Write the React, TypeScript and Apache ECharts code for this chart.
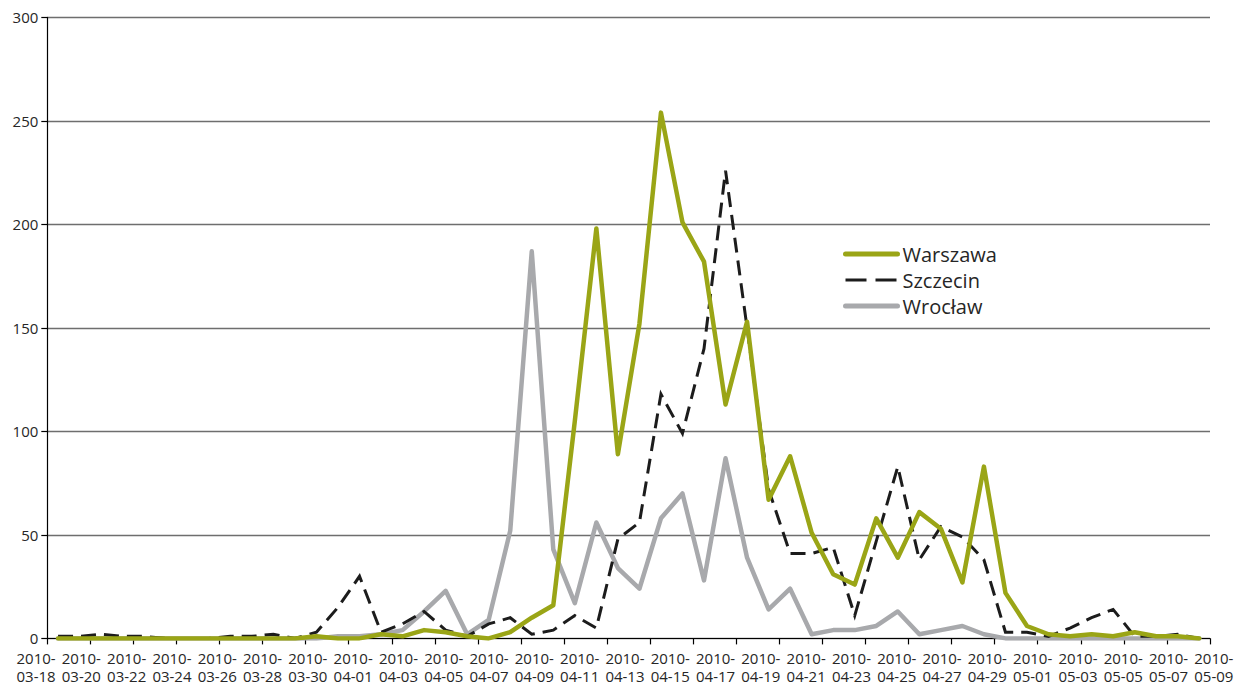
import React, { useEffect, useRef } from "react";
import * as echarts from "echarts";

const categories = [
  "2010-03-18", "2010-03-19", "2010-03-20", "2010-03-21", "2010-03-22", "2010-03-23", "2010-03-24",
  "2010-03-25", "2010-03-26", "2010-03-27", "2010-03-28", "2010-03-29", "2010-03-30", "2010-03-31",
  "2010-04-01", "2010-04-02", "2010-04-03", "2010-04-04", "2010-04-05", "2010-04-06", "2010-04-07",
  "2010-04-08", "2010-04-09", "2010-04-10", "2010-04-11", "2010-04-12", "2010-04-13", "2010-04-14",
  "2010-04-15", "2010-04-16", "2010-04-17", "2010-04-18", "2010-04-19", "2010-04-20", "2010-04-21",
  "2010-04-22", "2010-04-23", "2010-04-24", "2010-04-25", "2010-04-26", "2010-04-27", "2010-04-28",
  "2010-04-29", "2010-04-30", "2010-05-01", "2010-05-02", "2010-05-03", "2010-05-04", "2010-05-05",
  "2010-05-06", "2010-05-07", "2010-05-08", "2010-05-09", "2010-05-10",
];

const tickLabels = [
  "2010-03-18", "2010-03-20", "2010-03-22", "2010-03-24", "2010-03-26", "2010-03-28", "2010-03-30",
  "2010-04-01", "2010-04-03", "2010-04-05", "2010-04-07", "2010-04-09", "2010-04-11", "2010-04-13",
  "2010-04-15", "2010-04-17", "2010-04-19", "2010-04-21", "2010-04-23", "2010-04-25", "2010-04-27",
  "2010-04-29", "2010-05-01", "2010-05-03", "2010-05-05", "2010-05-07", "2010-05-09",
];

const seriesNames = ["Warszawa", "Szczecin", "Wrocław"];

const warszawa = [
  0, 0, 0, 0, 0, 0, 0, 0, 0, 0, 0, 0, 1, 0, 0, 2, 1, 4, 3, 1, 0, 3, 10, 16, 105, 198, 89, 152,
  254, 201, 182, 113, 153, 67, 88, 51, 31, 26, 58, 39, 61, 53, 27, 83, 22, 6, 2, 1, 2, 1, 3, 1, 1, 0,
];

const szczecin = [
  1, 1, 2, 1, 1, 0, 0, 0, 1, 1, 2, 0, 3, 15, 30, 3, 7, 13, 4, 1, 7, 10, 2, 4, 11, 5, 48, 56,
  118, 99, 140, 226, 150, 72, 41, 41, 44, 11, 47, 83, 38, 54, 49, 38, 3, 3, 1, 5, 10, 14, 1, 1, 2, 0,
];

const wroclaw = [
  0, 0, 0, 0, 0, 0, 0, 0, 0, 0, 0, 0, 0, 1, 1, 2, 4, 13, 23, 2, 9, 52, 187, 43, 17, 56, 34, 24,
  58, 70, 28, 87, 39, 14, 24, 2, 4, 4, 6, 13, 2, 4, 6, 2, 0, 0, 0, 0, 0, 0, 0, 0, 0, 0,
];

const yMin = 0;
const yMax = 300;
const yStep = 50;

const FONT = "'Open Sans', 'Noto Sans', sans-serif";
const GREEN = "#9aa516";
const GRAY = "#a8a9ac";
const DARK = "#1c1c1c";

export default function App() {
  const ref = useRef<HTMLDivElement>(null);

  useEffect(() => {
    const chart = echarts.init(ref.current as HTMLDivElement, null, { renderer: "svg" });
    chart.setOption({
      animation: false,
      backgroundColor: "#ffffff",
      textStyle: { fontFamily: FONT },
      grid: [
        { left: 47.3, right: 30, top: 17.4, bottom: 49.6 },
        { left: 13.4, right: 3.5, top: 17.4, bottom: 49.6 },
      ],
      legend: {
        orient: "vertical",
        left: 838,
        top: 239,
        itemWidth: 52,
        itemHeight: 14,
        itemGap: 6,
        itemStyle: { opacity: 0 },
        textStyle: {
          fontFamily: FONT,
          fontSize: 20,
          lineHeight: 20,
          color: "#262626",
        },
        data: [
          { name: seriesNames[0], lineStyle: { width: 5, color: GREEN, type: "solid", cap: "round" } },
          { name: seriesNames[1], lineStyle: { width: 3, color: DARK, type: [21, 9] } },
          { name: seriesNames[2], lineStyle: { width: 5, color: GRAY, type: "solid", cap: "round" } },
        ],
      },
      xAxis: [
        {
          type: "category",
          gridIndex: 0,
          data: categories,
          boundaryGap: true,
          axisLine: { show: true, lineStyle: { color: "#000", width: 1.2 } },
          axisTick: { show: true, interval: 1, length: 6, lineStyle: { color: "#000", width: 1.2 } },
          axisLabel: { show: false },
          splitLine: { show: false },
        },
        {
          type: "category",
          gridIndex: 1,
          data: tickLabels,
          boundaryGap: true,
          axisLine: { show: false },
          axisTick: { show: false },
          splitLine: { show: false },
          axisLabel: {
            interval: 0,
            margin: 10,
            fontSize: 15,
            lineHeight: 18.5,
            color: "#262626",
            fontFamily: FONT,
            formatter: (v: string) => v.slice(0, 5) + "\n" + v.slice(5),
          },
        },
      ],
      yAxis: [
        {
          type: "value",
          gridIndex: 0,
          min: yMin,
          max: yMax,
          interval: yStep,
          axisLine: { show: true, lineStyle: { color: "#000", width: 1.2 } },
          axisTick: { show: true, length: 6, lineStyle: { color: "#000", width: 1.2 } },
          axisLabel: { margin: 9, fontSize: 15, color: "#262626", fontFamily: FONT },
          splitLine: { show: true, lineStyle: { color: "#6e6e6e", width: 1.4 } },
        },
        { type: "value", gridIndex: 1, min: yMin, max: yMax, show: false },
      ],
      series: [
        {
          name: seriesNames[0],
          type: "line",
          data: warszawa,
          xAxisIndex: 0,
          yAxisIndex: 0,
          symbol: "none",
          z: 5,
          lineStyle: { color: GREEN, width: 4.5, join: "round", cap: "round" },
          itemStyle: { color: GREEN },
        },
        {
          name: seriesNames[1],
          type: "line",
          data: szczecin,
          xAxisIndex: 0,
          yAxisIndex: 0,
          symbol: "none",
          z: 4,
          lineStyle: { color: DARK, width: 3, type: [15, 8], join: "miter" },
          itemStyle: { color: DARK },
        },
        {
          name: seriesNames[2],
          type: "line",
          data: wroclaw,
          xAxisIndex: 0,
          yAxisIndex: 0,
          symbol: "none",
          z: 3,
          lineStyle: { color: GRAY, width: 4.5, join: "round", cap: "round" },
          itemStyle: { color: GRAY },
        },
      ],
    });
    return () => chart.dispose();
  }, []);

  return (
    <div
      ref={ref}
      style={{ position: "absolute", left: 0, top: 0, width: 1240, height: 688, background: "#fff" }}
    />
  );
}
